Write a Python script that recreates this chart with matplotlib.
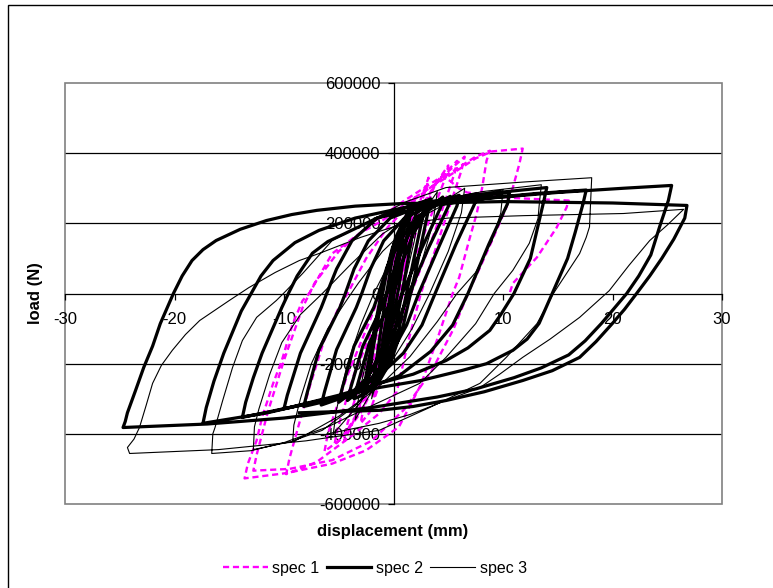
import numpy as np
import matplotlib
matplotlib.use("Agg")
import matplotlib.pyplot as plt
from matplotlib.patches import Rectangle

plt.rcParams['font.family'] = ['Liberation Sans', 'DejaVu Sans']
plt.rcParams['axes.unicode_minus'] = False

# hysteresis paths: (displacement mm, load kN)
spec1 = [
    (0, 0), (-0.3, -70), (-0.5, -120),
    (0.0, 0), (0.6, 140),
    (0.1, 20), (-0.5, -110), (-1.0, -220),
    (-0.3, -60), (0.4, 100), (1.1, 220),
    (0.5, 80), (-0.3, -100), (-1.0, -220), (-1.8, -300),
    (-1.4, -200), (-0.6, -30), (0.3, 120), (1.2, 230), (2.0, 280),
    (1.6, 200), (0.8, 40), (-0.2, -130), (-1.3, -260), (-2.2, -340), (-3.0, -370),
    (-2.7, -320), (-1.5, -170), (-0.2, -40), (0.7, 60), (1.7, 180), (2.5, 270), (3.2, 330),
    (3.0, 300), (1.3, 150), (-0.3, 0), (-1.2, -110), (-2.2, -230), (-3.3, -340), (-4.5, -420),
    (-4.2, -370), (-2.8, -230), (-1.2, -90), (0.2, 0), (1.2, 100), (2.6, 220), (3.8, 310), (5.0, 365),
    (4.8, 335), (2.8, 170), (0.9, 0), (-0.3, -110), (-1.7, -230), (-3.3, -340), (-4.5, -405), (-5.4, -432),
    (-5.1, -385), (-3.6, -230), (-1.6, -80), (-0.7, 0), (0.7, 120), (2.3, 230), (4.0, 320), (5.8, 378),
    (5.6, 345), (3.7, 170), (1.6, 0), (0.4, -110), (-1.2, -230), (-3.0, -340), (-4.8, -415), (-6.3, -450),
    (-6.0, -400), (-4.3, -240), (-2.2, -80), (-1.2, 0), (0.3, 120), (2.0, 220), (4.0, 320), (6.5, 390),
    (6.2, 350), (4.4, 180), (2.5, 0), (1.4, -130), (0.3, -280), (-1.3, -342), (-4.0, -410), (-7.0, -480), (-9.8, -515),
    (-9.5, -470), (-8.7, -380), (-7.6, -260), (-6.3, -130), (-5.0, -40), (-4.2, 0), (-2.5, 100), (-0.5, 190),
    (2.0, 270), (5.0, 340), (7.5, 390), (8.8, 407),
    (8.5, 379), (8.1, 302), (7.6, 228), (6.9, 151), (6.0, 46), (5.4, 0), (4.0, -130), (2.5, -260), (0.5, -380),
    (-2.5, -447), (-5.6, -485), (-9.8, -512), (-13.6, -527),
    (-13.3, -485), (-12.5, -419), (-12.0, -353), (-11.0, -257), (-10.2, -191), (-9.2, -86), (-8.3, -20), (-7.7, 0),
    (-5.6, 114), (-3.1, 171), (-1.0, 208), (1.5, 265), (4.8, 330), (7.5, 385), (9.0, 405), (11.8, 413),
    (11.5, 370), (10.9, 302), (10.3, 245), (9.0, 151), (7.9, 74), (6.9, 8), (5.5, -100), (3.5, -220), (1.0, -330),
    (-2.0, -420), (-5.6, -475), (-9.5, -500), (-12.8, -505),
    (-12.5, -460), (-11.5, -340), (-10.0, -190), (-8.3, -40), (-7.2, 30), (-5.0, 120), (-2.0, 200), (1.0, 265),
    (3.5, 315), (4.5, 335), (5.2, 320), (6.0, 299), (6.7, 288), (11.0, 272), (16.0, 265),
    (15.8, 245), (14.9, 188), (13.1, 103), (10.9, 29), (10.6, 0),
]

spec2 = [
    (0, 0), (-0.4, -80), (-0.8, -150),
    (-0.2, -20), (0.4, 100), (0.9, 170),
    (0.3, 50), (-0.4, -90), (-1.3, -210),
    (-0.7, -80), (0.2, 90), (0.9, 180), (1.5, 220),
    (1.2, 160), (0.5, 20), (-0.4, -130), (-1.1, -215), (-1.9, -255),
    (-1.6, -200), (-0.9, -50), (-0.1, 100), (0.9, 200), (1.7, 240), (2.2, 250),
    (1.9, 200), (1.0, 40), (0.1, -110), (-0.8, -210), (-1.7, -265), (-2.6, -285),
    (-2.3, -240), (-1.5, -90), (-0.7, 50), (0.2, 160), (1.2, 225), (2.1, 255), (3.0, 265),
    (2.7, 225), (1.6, 60), (0.5, -100), (-0.6, -200), (-1.8, -262), (-2.9, -292),
    (-2.6, -250), (-1.8, -110), (-1.0, 20), (-0.1, 130), (1.0, 210), (2.2, 252), (3.4, 270),
    (3.1, 225), (2.0, 60), (0.9, -90), (-0.2, -190), (-1.3, -250), (-2.5, -285), (-3.6, -300),
    (-3.3, -262), (-2.2, -140), (-0.5, -40), (0, 0), (0.7, 80), (1.8, 170), (3.1, 240), (4.5, 275),
    (4.3, 245), (2.6, 130), (0.8, 0), (-0.2, -90), (-1.2, -170), (-2.4, -240), (-3.4, -285), (-4.2, -305),
    (-3.9, -268), (-2.8, -150), (-1.1, -40), (-0.6, 0), (0.2, 80), (1.4, 170), (2.9, 240), (5.2, 277),
    (5.0, 248), (3.2, 130), (1.4, 0), (0.3, -90), (-1.0, -170), (-2.4, -240), (-3.9, -285), (-5.0, -310),
    (-4.7, -272), (-3.6, -150), (-1.8, -40), (-1.35, 0), (-0.6, 75), (0.6, 155), (2.3, 220), (4.2, 262), (6.0, 280),
    (5.8, 250), (4.1, 130), (2.3, 0), (1.2, -90), (-0.2, -170), (-2.0, -240), (-4.0, -290), (-6.6, -318),
    (-6.3, -280), (-5.2, -160), (-3.4, -40), (-2.9, 0), (-2.1, 70), (-0.9, 150), (1.0, 215), (4.0, 260), (7.6, 285),
    (7.4, 255), (5.7, 140), (3.8, 0), (2.6, -90), (0.9, -170), (-1.5, -240), (-4.5, -295), (-8.2, -322),
    (-7.9, -285), (-6.8, -160), (-4.9, -40), (-4.4, 0), (-3.6, 70), (-2.3, 150), (-0.3, 215), (3.0, 255),
    (7.0, 275), (10.6, 288),
    (10.4, 255), (8.7, 140), (6.8, 0), (5.4, -90), (3.4, -165), (0.5, -235), (-4.5, -295), (-10.0, -328),
    (-9.7, -290), (-8.5, -170), (-6.6, -40), (-6.1, 0), (-5.2, 70), (-3.8, 150), (-1.5, 215), (2.0, 255),
    (7.0, 280), (14.0, 302),
    (13.7, 260), (12.5, 100), (11.0, 0), (9.8, -60), (8.8, -105), (6.8, -155), (4.8, -191), (1.8, -230),
    (-1.3, -256), (-5.0, -290), (-9.5, -325), (-13.8, -353),
    (-13.5, -310), (-12.8, -240), (-12.0, -170), (-10.2, -40), (-9.6, 0), (-8.8, 50), (-7.4, 115), (-6.0, 148),
    (-4.5, 170), (-1.5, 215), (2.5, 245), (8.0, 270), (13.0, 285), (17.6, 295),
    (17.3, 255), (16.6, 175), (15.9, 100), (14.5, 0), (13.3, -85), (12.2, -130), (10.9, -162), (8.5, -200),
    (6.3, -219), (2.5, -248), (-1.3, -268), (-6.0, -300), (-11.5, -340), (-17.4, -370),
    (-17.1, -325), (-16.4, -250), (-15.5, -170), (-14.7, -110), (-13.9, -50), (-13.0, 0), (-12.1, 50),
    (-11.0, 94), (-9.0, 145), (-6.8, 180), (-3.5, 215), (1.0, 245), (8.0, 270), (15.0, 288), (21.0, 300),
    (25.4, 308),
    (25.1, 265), (24.3, 190), (23.5, 110), (22.4, 50), (21.3, 0), (19.0, -85), (17.5, -135), (16.0, -175),
    (13.5, -212), (11.0, -240), (7.5, -272), (4.0, -295), (-2.0, -325), (-10.0, -355), (-17.0, -372),
    (-24.7, -382),
    (-24.5, -365), (-24.3, -340), (-23.6, -280), (-22.8, -210), (-22.0, -150), (-21.3, -86), (-20.1, 0),
    (-19.3, 50), (-18.4, 94), (-17.4, 125), (-16.2, 151), (-14.0, 183), (-11.6, 208), (-9.3, 225), (-7.0, 237),
    (-3.5, 249), (0.5, 256), (10.0, 262), (20.0, 258), (26.8, 251),
    (26.6, 215), (25.6, 155), (24.5, 100), (23.4, 50), (22.2, 0), (21.1, -45), (20.0, -85), (18.5, -137),
    (17.0, -182), (14.5, -220), (11.8, -248), (8.3, -280), (4.8, -305), (1.8, -322), (-1.3, -333),
    (-8.6, -340),
]

spec3 = [
    (0, 0), (-0.5, -110), (-1.0, -200),
    (-0.2, -30), (0.4, 110), (1.0, 200),
    (0.3, 60), (-0.6, -120), (-1.3, -230), (-2.0, -300),
    (-1.4, -180), (-0.5, -40), (0.6, 100), (1.6, 200), (2.5, 260),
    (1.9, 150), (0.8, 0), (-0.5, -150), (-2.0, -280), (-3.5, -360),
    (-3.1, -280), (-2.2, -150), (-1.0, -30), (0.3, 90), (2.0, 200), (4.0, 290),
    (3.6, 200), (2.4, 70), (1.0, -60), (-0.8, -190), (-3.0, -310), (-5.5, -400),
    (-5.2, -330), (-4.2, -200), (-3.0, -90), (-1.8, 0), (0.0, 110), (2.5, 220), (6.5, 300),
    (6.2, 230), (5.0, 120), (3.3, 0), (1.7, -100), (-0.5, -210), (-3.5, -320), (-6.5, -390), (-9.2, -420),
    (-9.1, -375), (-8.5, -300), (-7.5, -200), (-6.0, -100), (-4.3, -20), (-3.2, 30), (-1.0, 120), (2.0, 210),
    (6.0, 275), (10.0, 295),
    (9.8, 230), (9.0, 150), (7.5, 60), (5.8, 0), (4.0, -80), (1.5, -180), (-1.5, -270), (-5.0, -350),
    (-9.0, -420), (-12.8, -445),
    (-12.7, -380), (-12.3, -330), (-11.3, -230), (-10.2, -140), (-8.5, -60), (-6.5, 0), (-4.0, 80), (-1.0, 170),
    (3.0, 250), (8.0, 290), (13.5, 310),
    (13.3, 250), (13.2, 214), (12.4, 143), (10.9, 66), (9.2, 0), (7.5, -86), (4.8, -182), (2.4, -256),
    (-2.0, -320), (-6.0, -380), (-10.0, -425), (-13.0, -448), (-16.6, -456),
    (-16.5, -400), (-16.3, -382), (-15.6, -305), (-14.7, -211), (-13.8, -134), (-12.5, -68), (-10.7, -20),
    (-9.8, 8), (-8.3, 57), (-5.6, 151), (-2.5, 200), (1.0, 260), (4.8, 302), (12.0, 318), (18.1, 330),
    (17.9, 190), (17.6, 160), (17.0, 114), (15.8, 57), (14.6, 0), (13.1, -86), (10.3, -182), (7.9, -256),
    (3.3, -325), (-1.3, -390), (-8.0, -420), (-16.0, -445), (-24.1, -456), (-24.3, -439),
    (-23.7, -415), (-23.2, -382), (-22.6, -320), (-22.0, -256), (-21.2, -205), (-20.2, -162), (-19.0, -117),
    (-17.7, -77), (-15.0, -20), (-13.2, 17), (-10.8, 60), (-8.6, 94), (-6.8, 114), (-3.0, 160), (1.0, 200),
    (5.0, 215), (12.0, 222), (21.0, 228), (26.5, 240),
    (25.0, 195), (23.4, 151), (21.5, 80), (19.7, 8), (17.0, -68), (14.3, -130), (11.8, -182), (9.7, -230),
    (7.9, -268), (4.8, -305), (1.5, -345), (-1.3, -370), (-6.0, -400),
]

x_ticks = [-30, -20, -10, 0, 10, 20, 30]
y_ticks = [-600000, -400000, -200000, 0, 200000, 400000, 600000]


def xy(path):
    arr = np.array(path, dtype=float)
    return arr[:, 0], arr[:, 1] * 1000


fig = plt.figure(figsize=(7.73, 5.88), dpi=100)
ax = fig.add_axes([65 / 773, 1 - 504 / 588, 657 / 773, 421 / 588])

# outer chart border (right/bottom edges fall outside the picture)
fig.patches.append(Rectangle((8 / 773, -0.1), 1.2, 1 - 5 / 588 + 0.1, transform=fig.transFigure,
                             fill=False, ec='black', lw=1.0))

x1, y1 = xy(spec1)
x2, y2 = xy(spec2)
x3, y3 = xy(spec3)
ax.plot(x1, y1, color='#FF00FF', lw=1.7, dashes=(2.6, 1.6), label='spec 1', zorder=3)
ax.plot(x2, y2, color='black', lw=2.3, label='spec 2', zorder=3, solid_joinstyle='round')
ax.plot(x3, y3, color='black', lw=0.8, label='spec 3', zorder=3)

ax.set_xlim(-30, 30)
ax.set_ylim(-600000, 600000)
ax.set_xticks(x_ticks)
ax.set_yticks(y_ticks)
ax.set_xticklabels([str(v) for v in x_ticks])
ax.set_yticklabels([str(v) for v in y_ticks])

for y in [-400000, -200000, 200000, 400000]:
    ax.axhline(y, color='black', lw=0.9, zorder=1)

ax.spines['left'].set_position(('data', 0))
ax.spines['bottom'].set_position(('data', 0))
ax.spines['top'].set_visible(False)
ax.spines['right'].set_visible(False)
for s in ['left', 'bottom']:
    ax.spines[s].set_color('black')
    ax.spines[s].set_linewidth(0.9)
    ax.spines[s].set_zorder(1)
ax.add_patch(Rectangle((0, 0), 1, 1, transform=ax.transAxes, fill=False,
                       ec='#808080', lw=1.2, zorder=1, clip_on=False))

ax.tick_params(axis='both', labelsize=12, colors='black', width=0.9)
ax.tick_params(axis='y', direction='out', length=4.3, pad=5)
ax.tick_params(axis='x', direction='out', length=4, pad=9)

ax.set_xlabel('displacement (mm)', fontsize=12, fontweight='bold')
ax.set_ylabel('load (N)', fontsize=12, fontweight='bold')
ax.xaxis.set_label_coords(0.499, -0.048)
ax.yaxis.set_label_coords(-0.034, 0.5)

fig.legend(loc='center', bbox_to_anchor=(375 / 773, 1 - 568 / 588), ncol=3, frameon=False,
           fontsize=11.5, handlelength=2.8, handletextpad=0.3, columnspacing=0.45)

fig.savefig('out.png', dpi=100)
